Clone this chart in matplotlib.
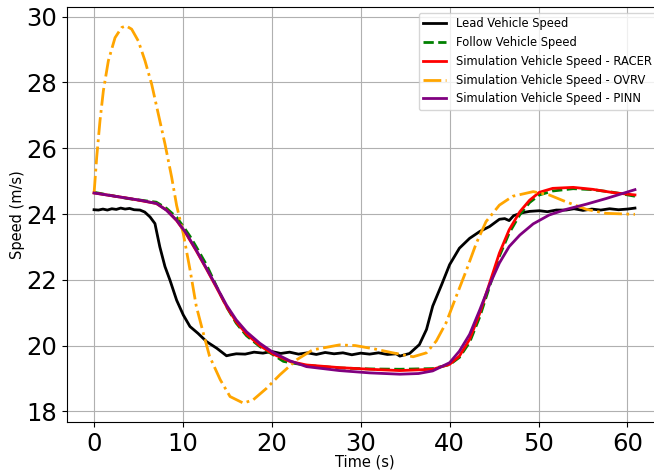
import matplotlib
matplotlib.use("Agg")
import matplotlib.pyplot as plt

lead_t = [0.0, 0.5, 1.0, 1.5, 2.0, 2.5, 3.0, 3.5, 4.0, 4.5, 5.17, 5.7, 6.3, 6.85, 7.4, 7.98,
          8.54, 9.29, 10.04, 10.79, 11.7, 12.66, 13.8, 14.9, 15.4, 16.0, 17, 18, 19, 20, 21,
          22, 23, 24, 25, 26, 27, 28, 29, 30, 31, 32, 33, 34, 34.4, 35.5, 36.6, 37.4, 38.1,
          39.1, 40.0, 41.1, 42.25, 43.4, 44.5, 45.6, 46.2, 46.7, 47.2, 48.2, 49.0, 50.1, 51.0,
          52.0, 53.1, 54.0, 55.0, 56.0, 57.0, 58.0, 59.0, 60.0, 60.85]
lead_v = [24.13, 24.12, 24.15, 24.12, 24.16, 24.14, 24.18, 24.15, 24.17, 24.13, 24.12, 24.06,
          23.91, 23.71, 23.00, 22.40, 21.99, 21.38, 20.93, 20.58, 20.37, 20.12, 19.92, 19.69,
          19.72, 19.75, 19.74, 19.80, 19.77, 19.82, 19.76, 19.80, 19.74, 19.78, 19.73, 19.79,
          19.75, 19.78, 19.72, 19.77, 19.74, 19.78, 19.73, 19.75, 19.68, 19.76, 20.03, 20.49,
          21.20, 21.85, 22.46, 22.96, 23.26, 23.47, 23.62, 23.84, 23.86, 23.80, 23.95, 24.04,
          24.08, 24.10, 24.07, 24.12, 24.12, 24.16, 24.11, 24.15, 24.12, 24.16, 24.13, 24.15,
          24.18]

racer_t = [0.0, 3.8, 7.0, 8.16, 9.29, 10.4, 11.5, 12.66, 13.78, 14.9, 16.0, 17.15, 18.65,
           20.15, 22.0, 23.9, 27.6, 31.0, 34.4, 38.1, 40.0, 41.1, 42.25, 43.4, 44.5, 45.6,
           46.7, 47.9, 49.0, 50.1, 51.6, 53.9, 56.1, 58.4, 60.85]
racer_v = [24.64, 24.48, 24.32, 24.12, 23.80, 23.38, 22.88, 22.32, 21.76, 21.19, 20.72, 20.35,
           20.00, 19.74, 19.52, 19.41, 19.33, 19.28, 19.24, 19.28, 19.43, 19.68, 20.19, 20.99,
           21.90, 22.81, 23.52, 24.07, 24.42, 24.66, 24.78, 24.81, 24.75, 24.65, 24.58]

follow_t = [0.0, 3.8, 7.0, 8.16, 9.29, 10.04, 10.8, 11.5, 12.66, 13.78, 14.9, 16.0, 17.15,
            18.65, 20.15, 21.3, 22.5, 23.9, 27.6, 31.0, 34.4, 38.1, 40.0, 41.1, 42.25, 43.4,
            44.5, 45.6, 46.7, 47.9, 49.0, 50.1, 51.6, 53.9, 56.1, 58.4, 60.85]
follow_v = [24.66, 24.47, 24.36, 24.17, 23.90, 23.62, 23.32, 23.00, 22.45, 21.80, 21.18, 20.68,
            20.30, 19.97, 19.72, 19.52, 19.46, 19.40, 19.32, 19.29, 19.28, 19.30, 19.42, 19.64,
            20.10, 20.88, 21.80, 22.72, 23.42, 23.98, 24.35, 24.58, 24.70, 24.77, 24.74, 24.66,
            24.54]

ovrv_t = [0.0, 0.3, 0.67, 1.05, 1.61, 2.36, 3.11, 3.6, 4.23, 4.98, 5.73, 6.48, 7.23, 7.98,
          8.73, 9.29, 10.04, 10.8, 11.5, 12.3, 13.0, 14.2, 15.3, 16.8, 17.9, 19.4, 20.9, 22.8,
          24.6, 27.6, 29.4, 31.5, 33.6, 35.9, 37.4, 38.5, 39.6, 40.75, 41.9, 43.0, 44.1, 45.6,
          47.1, 49.4, 51.2, 53.1, 55.4, 57.6, 60.85]
ovrv_v = [24.62, 25.73, 26.84, 27.75, 28.66, 29.36, 29.67, 29.72, 29.62, 29.26, 28.66, 27.95,
          27.04, 26.13, 25.12, 24.26, 23.40, 22.30, 21.20, 20.37, 19.67, 18.96, 18.45, 18.25,
          18.35, 18.70, 19.11, 19.57, 19.87, 20.02, 20.00, 19.90, 19.78, 19.66, 19.78, 20.14,
          20.69, 21.50, 22.30, 23.11, 23.77, 24.27, 24.54, 24.68, 24.58, 24.37, 24.14, 24.02,
          23.99]

pinn_t = [0.0, 5.17, 7.04, 8.16, 9.29, 10.4, 11.5, 12.66, 13.78, 14.9, 16.0, 17.15, 18.65,
          20.15, 22.0, 23.9, 27.6, 31.0, 34.4, 36.5, 38.1, 40.0, 41.1, 42.25, 43.4, 44.5, 45.6,
          46.7, 47.9, 49.4, 51.2, 53.1, 55.4, 57.6, 60.85]
pinn_v = [24.64, 24.42, 24.32, 24.11, 23.81, 23.40, 22.90, 22.34, 21.79, 21.23, 20.78, 20.42,
          20.07, 19.79, 19.54, 19.36, 19.24, 19.17, 19.13, 19.15, 19.23, 19.48, 19.83, 20.34,
          21.09, 21.85, 22.51, 23.01, 23.36, 23.70, 23.97, 24.14, 24.30, 24.47, 24.74]

fig = plt.figure(figsize=(6.54, 4.75), dpi=100)
ax = fig.add_axes([67/654, 53/475, 595/654, 415/475])

ax.plot(lead_t, lead_v, color='black', lw=2, label='Lead Vehicle Speed')
ax.plot(follow_t, follow_v, color='green', lw=2, ls='--', label='Follow Vehicle Speed')
ax.plot(racer_t, racer_v, color='red', lw=2, label='Simulation Vehicle Speed - RACER')
ax.plot(ovrv_t, ovrv_v, color='orange', lw=2, ls='-.', label='Simulation Vehicle Speed - OVRV')
ax.plot(pinn_t, pinn_v, color='purple', lw=2, label='Simulation Vehicle Speed - PINN')

ax.set_xlabel('Time (s)', fontsize=10.5, labelpad=-1)
ax.set_ylabel('Speed (m/s)', fontsize=10.5, labelpad=1)
ax.tick_params(labelsize=17.5)
ax.set_xticks([0, 10, 20, 30, 40, 50, 60])
ax.set_yticks([18, 20, 22, 24, 26, 28, 30])
ax.grid(True)
ax.legend(loc='upper right', fontsize=8.3)

fig.savefig('out.png', dpi=100)
